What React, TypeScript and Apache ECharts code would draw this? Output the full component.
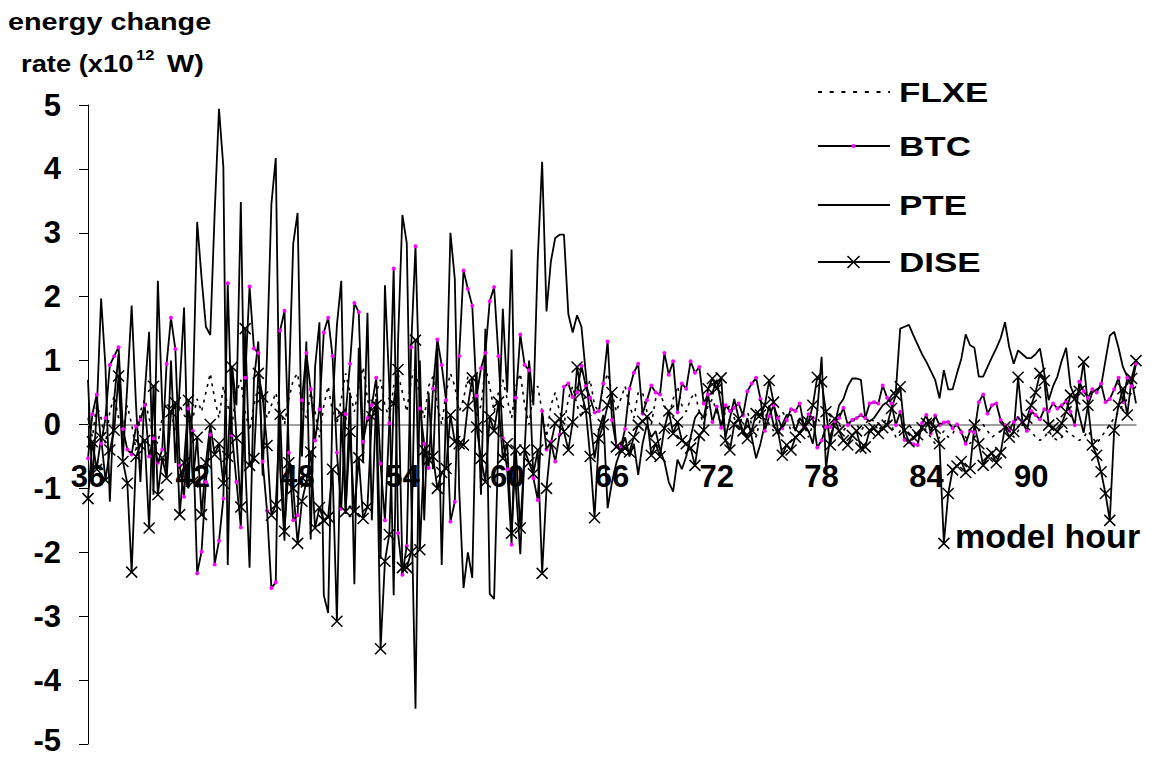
import React, { useEffect, useRef } from "react";
import * as echarts from "echarts";

// time grid: one value every 15 minutes from model hour 36 to 96
const START_HOUR = 36;
const STEP_HOURS = 0.25;

const SERIES_NAMES = ["FLXE", "BTC", "PTE", "DISE"];
const Y_TITLE_LINE1 = "energy change";
const Y_TITLE_LINE2 = "rate (x10";
const Y_TITLE_SUP = "12";
const Y_TITLE_END = "W)";
const X_TITLE = "model hour";

// energy change rates (x10^12 W)
const FLXE = [
  0.1, -0.2, 0.3, 0.1, -0.3, 0.2, 0.45, 0.1, -0.1, 0.3, 0.0, -0.4, 0.2, 0.4, 0.1, -0.2, -0.3, 0.1, 0.35, 0.2, -0.1, 0.3, 0.15, 0.05,
  0.1, 0.4, 0.2, 0.5, 0.8, 0.4, 0.1, 0.6, 0.3, 0.0, 0.5, 0.7, 0.2, -0.1, 0.3, 0.6, 0.4, 0.1, 0.3, 0.5, 0.2, 0.0, 0.4, 0.7,
  0.8, 0.3, 0.1, 0.5, 0.2, -0.2, 0.3, 0.6, 0.2, 0.0, 0.4, 0.8, 0.5, 0.2, 0.6, 0.9, 0.4, 0.1, 0.5, 0.7, 0.3, 0.1, 0.6, 0.8,
  0.5, 0.2, 0.7, 0.9, 0.4, 0.1, 0.6, 0.75, 0.3, 0.0, 0.5, 0.8, 0.6, 0.2, 0.4, 0.75, 0.5, 0.1, 0.3, 0.9, 0.6, 0.2, 0.5, 0.7,
  0.4, 0.1, 0.6, 0.8, 0.3, 0.0, 0.5, 0.6, 0.2, -0.2, 0.3, 0.5, 0.2, 0.0, 0.4, 0.6, 0.3, 0.1, 0.5, 0.7, 0.3, 0.2, 0.6, 0.8,
  0.5, 0.2, 0.4, 0.6, 0.3, 0.1, 0.5, 0.5, 0.2, 0.0, 0.4, 0.5, 0.3, 0.1, 0.4, 0.6, 0.3, 0.2, 0.4, 0.5, 0.2, 0.0, 0.3, 0.4,
  0.2, 0.0, 0.2, 0.3, 0.1, -0.1, 0.2, 0.2, 0.0, -0.2, 0.1, 0.2, 0.0, -0.1, 0.1, 0.2, 0.1, -0.1, 0.0, 0.1, 0.0, -0.2, 0.0, 0.1,
  0.0, -0.1, 0.1, 0.1, 0.0, -0.1, 0.0, 0.1, 0.0, -0.1, 0.0, 0.1, 0.05, -0.1, 0.0, 0.1, 0.0, -0.2, -0.1, 0.0, 0.0, -0.1, -0.2, 0.0,
  -0.1, -0.2, -0.3, -0.2, -0.1, -0.2, -0.15, 0.0, -0.1, -0.2, -0.3, -0.2, -0.1, 0.0, -0.1, -0.2, -0.15, -0.1, 0.0, -0.1, -0.2, -0.1, 0.0, -0.05,
  -0.1, -0.2, -0.25, -0.2, -0.1, -0.2, -0.25, -0.2, -0.1, -0.15, -0.2, -0.25, -0.2, -0.1, -0.2, -0.3, -0.2, -0.1, 0.0, 0.1, 0.2, 0.3, 0.4, 0.5,
  0.6,
];

const BTC = [
  -0.53, 0.16, 0.47, -0.3, 0.1, 0.93, 1.07, 1.21, -0.07, -0.39, -0.47, -0.03, 0.07, 0.3, -0.5, -0.22, -0.6, -0.39, 0.95, 1.67, 1.18, -0.64, -1.13, 0.25,
  -0.1, -2.33, -1.99, -0.9, -0.16, -2.19, -1.82, -1.16, 2.21, -0.17, -0.9, -1.61, 0.73, 2.16, 1.19, 1.12, -0.58, -1.35, -2.56, -2.47, 1.47, 1.78, -0.44, -1.5,
  -1.42, 0.38, 1.12, 0.55, -0.25, 0.24, 1.44, 1.67, 1.07, -0.44, -1.32, 0.16, 0.95, 1.9, 1.76, -0.27, 0.1, 0.3, 0.73, -0.61, -1.5, 0.02, 2.44, -1.7,
  -2.35, -1.9, 1.21, 2.79, 0.25, -0.3, -0.68, 0.56, 1.33, 0.93, 0.38, -1.52, -1.21, 1.07, 2.41, 2.12, 1.86, 0.45, 0.88, 1.12, 1.93, 2.15, 1.07, -0.22,
  -0.7, -1.88, 0.42, 1.41, 0.93, 0.85, -0.84, -1.18, 0.21, -0.39, -0.27, -0.58, -0.16, 0.59, 0.64, 0.43, 0.5, 0.92, 0.6, 0.42, 0.19, 0.21, 0.64, 1.3,
  0.07, -0.33, -0.36, -0.07, 0.56, 0.81, 0.95, 0.17, 0.38, 0.61, 0.5, 0.47, 1.12, 0.78, 0.99, 0.19, 0.64, 0.56, 0.99, 0.81, 0.9, 0.33, 0.47, 0.04,
  0.28, -0.05, 0.3, 0.21, 0.26, 0.33, 0.14, 0.52, 0.64, 0.73, 0.4, -0.1, 0.13, 0.3, 0.1, -0.06, 0.07, 0.24, 0.21, 0.33, -0.04, 0.16, 0.1, -0.36,
  -0.25, -0.04, -0.04, 0.05, 0.1, 0.26, -0.01, 0.07, 0.1, 0.15, 0.1, 0.33, 0.35, 0.33, 0.61, 0.42, 0.33, -0.01, 0.2, -0.24, -0.27, -0.31, -0.32, 0.02,
  0.15, -0.14, 0.14, -0.01, 0.03, 0.04, -0.06, 0.0, -0.12, -0.3, -0.1, -0.12, 0.35, 0.47, 0.17, 0.3, 0.33, 0.07, -0.01, -0.09, 0.04, 0.1, 0.04, -0.1,
  0.21, 0.15, 0.08, 0.24, 0.21, 0.33, 0.25, 0.3, 0.36, 0.2, -0.01, 0.67, 0.52, 0.42, 0.55, 0.5, 0.64, 0.35, 0.4, 0.55, 0.73, 0.35, 0.73, 0.6,
  0.95,
];

const PTE = [
  0.7, -0.9, 0.2, 1.97, 0.9, -1.21, 0.4, 1.1, -0.5, 0.6, 1.86, 0.3, -0.9, 0.5, 1.45, -1.1, 2.25, 0.3, -0.8, 1.0, -0.6, 0.6, 1.83, -1.0,
  0.4, 3.17, 2.3, 1.53, 1.4, 3.3, 4.94, 4.03, -2.2, 0.9, 0.3, 3.48, -0.6, -2.24, 0.7, 1.3, -0.8, 1.1, 3.45, 4.17, -0.7, -1.82, 0.6, 2.83,
  3.31, -0.5, 1.3, -1.8, 0.9, 1.6, -2.67, -2.95, 0.3, 1.55, 2.25, -1.4, 0.5, -2.5, 1.2, -0.6, 1.75, -1.5, 0.4, -2.1, 2.18, 0.6, -2.67, 1.3,
  3.28, 2.84, -1.0, -4.45, 1.0, -1.5, 0.5, -0.7, 1.2, -2.2, 0.3, 3.0, 2.28, -1.0, -2.56, -2.0, -2.4, 0.8, -1.1, 1.5, -2.65, -2.73, -0.2, 1.81,
  0.5, 2.74, -1.0, -2.03, -0.4, 1.0, 0.3, 2.6, 4.11, 1.77, 2.55, 2.92, 2.97, 2.97, 1.73, 1.44, 1.71, 1.53, 0.8, 0.1, -0.53, -0.1, 0.15, -1.31,
  -0.9, -0.6, -0.4, -0.2, -0.5, -0.3, -0.79, -0.3, 0.0, -0.2, -0.1, -0.4, -0.58, -0.9, -1.05, -0.55, -0.7, -0.5, -0.2, 0.1, 0.2, 0.1, 0.46, 0.5,
  0.7, 0.3, -0.2, 0.1, 0.4, 0.1, -0.15, 0.1, -0.2, -0.53, -0.3, 0.0, 0.3, 0.0, -0.15, 0.0, 0.15, 0.15, -0.1, 0.1, 0.0, -0.1, -0.3, 0.2,
  1.06, -0.69, -0.17, 0.0, 0.3, 0.4, 0.6, 0.72, 0.72, 0.7, 0.1, 0.05, 0.1, 0.2, 0.3, 0.35, 0.45, 0.52, 1.5, 1.53, 1.56, 1.4, 1.25, 1.1,
  0.98, 0.84, 0.7, 0.41, 0.85, 0.55, 0.55, 0.8, 1.03, 1.41, 1.24, 1.2, 0.75, 0.75, 0.9, 1.05, 1.19, 1.35, 1.6, 1.2, 0.95, 1.16, 1.1, 1.04,
  1.04, 1.1, 1.19, 0.8, 0.38, 0.6, 0.75, 1.0, 1.2, 0.6, 0.43, 0.15, -0.13, 0.3, 0.5, 0.55, 0.6, 1.0, 1.39, 1.45, 1.2, 0.9, 0.75, 0.7,
  0.33,
];

const DISE = [
  -1.16, -0.27, -0.7, -0.2, -0.87, -0.4, -0.09, 0.76, -0.58, -0.92, -2.31, -0.5, -0.32, -0.25, -1.62, 0.6, -1.1, -0.52, -0.84, 0.2, 0.34, -1.41, -0.6, 0.38,
  -0.9, -0.2, -1.41, -0.6, 0.0, -0.47, -0.3, -0.92, -0.5, 0.9, -0.21, -1.29, 1.5, -0.64, -0.53, 0.8, 0.43, -0.33, -1.42, -1.26, 0.16, -1.67, -0.6, -1.0,
  -1.86, -1.2, -0.9, -0.43, -1.62, -1.3, -1.5, -1.45, -0.7, -3.08, 0.17, -1.36, -0.11, -1.36, -0.52, -1.47, -1.29, 0.12, 0.3, -3.51, -2.14, -1.72, 0.33, 0.86,
  -2.24, -2.24, -2.0, 1.32, -1.96, -0.4, -0.55, -0.5, -1.0, -0.75, -0.69, 0.15, -0.27, -0.3, -0.32, 0.29, 0.73, -0.04, -0.53, -0.9, 0.12, -0.1, 0.35, -0.53,
  -0.3, -1.7, -0.4, -1.62, -0.4, -0.6, -0.77, -0.4, -2.33, -1.0, -0.3, 0.02, 0.09, -0.11, -0.4, 0.04, 0.9, 0.5, 0.22, -0.5, -1.46, -0.22, 0.0, 0.3,
  0.5, -0.35, -0.4, -0.37, -0.43, -0.2, -0.01, 0.05, 0.12, -0.48, -0.3, -0.5, -0.06, 0.21, -0.14, 0.04, -0.25, -0.3, -0.37, -0.64, -0.17, -0.09, 0.56, 0.72,
  0.56, 0.73, -0.25, -0.4, 0.0, 0.09, -0.1, -0.22, -0.09, 0.17, 0.15, 0.3, 0.69, 0.35, -0.1, -0.48, -0.32, -0.4, -0.2, -0.14, -0.04, 0.04, 0.3, 0.74,
  0.67, 0.2, -0.32, 0.09, -0.1, -0.25, -0.32, -0.17, -0.1, -0.37, -0.35, -0.09, -0.06, -0.14, -0.05, -0.01, 0.25, 0.46, 0.59, -0.09, -0.27, -0.2, -0.16, -0.05,
  0.02, 0.04, -0.06, -0.3, -1.86, -1.08, -0.71, -0.65, -0.58, -0.75, -0.69, -0.01, -0.3, -0.64, -0.5, -0.45, -0.6, -0.44, -0.04, -0.2, -0.11, 0.74, 0.04, 0.1,
  0.3, 0.5, 0.8, 0.69, -0.01, -0.05, -0.11, 0.02, 0.2, 0.46, 0.4, 0.52, 0.98, 0.3, -0.32, -0.48, -0.74, -1.08, -1.5, -0.09, 0.3, 0.56, 0.15, 0.72,
  1.0,
];

const FONT = '"Liberation Sans", Arial, Helvetica, sans-serif';
const BLACK = "#000000";
const MAGENTA = "#FF00FF";
const CROSS = "path://M0,0L10,10M10,0L0,10";

const pairs = (vals: number[]) => vals.map((v, i) => [START_HOUR + i * STEP_HOURS, v]);

function legendItem(idx: number, y: number) {
  const els: any[] = [];
  const lineStyle: any = { stroke: BLACK, lineWidth: 2 };
  if (idx === 0) lineStyle.lineDash = [4, 7.7];
  els.push({ type: "line", shape: { x1: 818, y1: y, x2: 890, y2: y }, style: lineStyle });
  if (idx === 1) {
    els.push({ type: "circle", shape: { cx: 853.5, cy: y, r: 2 }, style: { fill: MAGENTA } });
  }
  if (idx === 3) {
    els.push({ type: "line", shape: { x1: 847.5, y1: y - 6, x2: 859.5, y2: y + 6 }, style: { stroke: BLACK, lineWidth: 1.6 } });
    els.push({ type: "line", shape: { x1: 859.5, y1: y - 6, x2: 847.5, y2: y + 6 }, style: { stroke: BLACK, lineWidth: 1.6 } });
  }
  els.push({
    type: "text",
    x: 899,
    y,
    scaleX: 1.25,
    style: { text: SERIES_NAMES[idx], fontSize: 28, fontWeight: "bold", fontFamily: FONT, fill: BLACK, verticalAlign: "middle", align: "left" },
  });
  return els;
}

// plot area (pixels) and the y value range; the x axis sits at y = 0
const GRID = { left: 88, right: 16, top: 105, bottom: 15 };
const Y_MIN = -5;
const Y_MAX = 5;

export default function App() {
  const ref = useRef<HTMLDivElement>(null);
  useEffect(() => {
    const chart = echarts.init(ref.current as HTMLDivElement, null, { renderer: "svg" });
    const legendYs = [92, 146, 205, 262];
    const graphic: any[] = [
      {
        type: "text", x: 8, y: 22, scaleX: 1.2,
        style: { text: Y_TITLE_LINE1, fontSize: 24, fontWeight: "bold", fontFamily: FONT, fill: BLACK, verticalAlign: "middle" },
      },
      {
        type: "text", x: 21, y: 64, scaleX: 1.14,
        style: { text: Y_TITLE_LINE2, fontSize: 24, fontWeight: "bold", fontFamily: FONT, fill: BLACK, verticalAlign: "middle" },
      },
      {
        type: "text", x: 136, y: 55, scaleX: 1.1,
        style: { text: Y_TITLE_SUP, fontSize: 15, fontWeight: "bold", fontFamily: FONT, fill: BLACK, verticalAlign: "middle" },
      },
      {
        type: "text", x: 167, y: 64, scaleX: 1.2,
        style: { text: Y_TITLE_END, fontSize: 24, fontWeight: "bold", fontFamily: FONT, fill: BLACK, verticalAlign: "middle" },
      },
      {
        type: "text", x: 955, y: 536,
        style: { text: X_TITLE, fontSize: 34, fontWeight: "bold", fontFamily: FONT, fill: BLACK, verticalAlign: "middle" },
      },
    ];
    legendYs.forEach((y, i) => graphic.push(...legendItem(i, y)));

    const plotH = 759 - GRID.top - GRID.bottom;
    const zeroOffset = -plotH * (0 - Y_MIN) / (Y_MAX - Y_MIN);

    const labelStyle = { fontSize: 31, fontWeight: "bold", fontFamily: FONT, color: BLACK };
    const option: any = {
      animation: false,
      backgroundColor: "#ffffff",
      grid: { ...GRID, containLabel: false, outerBoundsMode: "none" },
      xAxis: {
        type: "value",
        min: 36,
        max: 96,
        interval: 6,
        position: "bottom",
        offset: zeroOffset,
        axisLine: { show: true, onZero: false, lineStyle: { color: "#808080", width: 1.5 } },
        axisTick: { show: false },
        splitLine: { show: false },
        axisLabel: { ...labelStyle, margin: 36, formatter: (v: number) => (v >= 96 ? "" : String(v)) },
      },
      yAxis: {
        type: "value",
        min: Y_MIN,
        max: Y_MAX,
        interval: 1,
        axisLine: { show: true, onZero: false, lineStyle: { color: BLACK, width: 1 } },
        axisTick: { show: true, inside: false, length: 9, lineStyle: { color: BLACK, width: 1 } },
        splitLine: { show: false },
        axisLabel: {
          ...labelStyle,
          lineHeight: 24,
          margin: 27,
          formatter: (v: number) => (v === Y_MIN ? "{lo|" + v + "}" : String(v)),
          rich: {
            lo: { fontSize: 31, fontWeight: "bold", fontFamily: FONT, color: BLACK, lineHeight: 24, padding: [0, 0, 8, 0] },
          },
        },
      },
      series: [
        {
          name: SERIES_NAMES[0], type: "line", data: pairs(FLXE), symbol: "none",
          lineStyle: { color: BLACK, width: 1.6, type: [3, 5] }, itemStyle: { color: BLACK },
        },
        {
          name: SERIES_NAMES[1], type: "line", data: pairs(BTC), symbol: "circle", symbolSize: 4,
          lineStyle: { color: BLACK, width: 1.8 }, itemStyle: { color: MAGENTA, borderWidth: 0 },
        },
        {
          name: SERIES_NAMES[2], type: "line", data: pairs(PTE), symbol: "none",
          lineStyle: { color: BLACK, width: 1.8 }, itemStyle: { color: BLACK },
        },
        {
          name: SERIES_NAMES[3], type: "line", data: pairs(DISE), symbol: CROSS, symbolSize: 11,
          lineStyle: { color: BLACK, width: 1.8 }, itemStyle: { color: BLACK, borderColor: BLACK, borderWidth: 1.5 },
        },
      ],
      graphic,
    };
    chart.setOption(option);
    return () => chart.dispose();
  }, []);
  return <div ref={ref} style={{ position: "fixed", left: 0, top: 0, width: 1152, height: 759, background: "#ffffff" }} />;
}
